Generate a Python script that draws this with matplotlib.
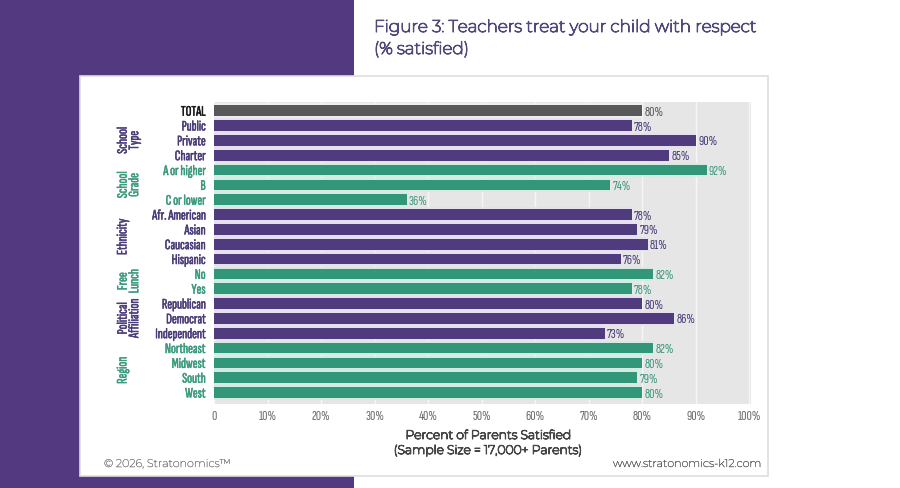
import matplotlib
matplotlib.use("Agg")
import matplotlib.pyplot as plt
from matplotlib.patches import Rectangle
import matplotlib.patheffects as pe

categories = ["TOTAL", "Public", "Private", "Charter", "A or higher", "B", "C or lower",
              "Afr. American", "Asian", "Caucasian", "Hispanic", "No", "Yes",
              "Republican", "Democrat", "Independent", "Northeast", "Midwest", "South", "West"]
values = [80, 78, 90, 85, 92, 74, 36, 78, 79, 81, 76, 82, 78, 80, 86, 73, 82, 80, 79, 80]
groups = ["total", "p", "p", "p", "g", "g", "g", "p", "p", "p", "p", "g", "g",
          "p", "p", "p", "g", "g", "g", "g"]
x_ticks = [0, 10, 20, 30, 40, 50, 60, 70, 80, 90, 100]
x_labels = ["0", "10%", "20%", "30%", "40%", "50%", "60%", "70%", "80%", "90%", "100%"]
group_labels = [("School\nType", 2, "p"), ("School\nGrade", 5, "g"), ("Ethnicity", 8.5, "p"),
                ("Free\nLunch", 11.5, "g"), ("Political\nAffiliation", 14, "p"), ("Region", 17.5, "g")]

PURPLE = "#4f3b7d"
GREEN = "#329679"
DARK = "#58585a"
PAGE = "#53397f"
solid = {"total": DARK, "p": PURPLE, "g": GREEN}
pale = {"total": "#eeeeee", "p": "#e6dff0", "g": "#d3ebe3"}
text_c = {"total": "#1a1a1a", "p": "#4a3c78", "g": "#3c9a7e"}
value_c = {"total": "#58585a", "p": "#4a3c78", "g": "#3c9a7e"}
NARROW = ["Sofia Sans Extra Condensed", "Saira ExtraCondensed", "Roboto", "DejaVu Sans"]
WIDE = ["Montserrat", "Open Sans", "Noto Sans", "DejaVu Sans"]
W, H = 900, 488

fig = plt.figure(figsize=(9, 4.88), dpi=100, facecolor="white")

def box(x0, y0, x1, y1, **kw):
    fig.add_artist(Rectangle((x0 / W, 1 - y1 / H), (x1 - x0) / W, (y1 - y0) / H,
                             transform=fig.transFigure, **kw))

def heavy(t, w, c):
    t.set_path_effects([pe.withStroke(linewidth=w, foreground=c)])

box(0, 0, 353.5, 488, facecolor=PAGE, edgecolor="none", zorder=0)
box(80, 76, 768, 476, facecolor="white", edgecolor="#dedee2", linewidth=1.2, zorder=1)

ax = fig.add_axes([214 / W, 1 - 404 / H, (751 - 214) / W, (404 - 101.7) / H], zorder=2)
ax.set_facecolor("#e6e6e7")
ax.set_xlim(0, 100.3)
ax.set_ylim(19.775, -0.607)
for s in ax.spines.values():
    s.set_visible(False)
ax.set_axisbelow(True)
ax.grid(axis="x", color="#f6f6f6", linewidth=1)
ax.tick_params(length=0)
ax.set_xticks(x_ticks)
ax.set_xticklabels(x_labels, family=NARROW, fontsize=10.5, color="#6a6a6c")
ax.tick_params(axis="x", pad=4)
ax.set_yticks(range(len(categories)))
ax.set_yticklabels(categories, family=NARROW, fontsize=10.5)
ax.tick_params(axis="y", pad=6)
for lab, g in zip(ax.get_yticklabels(), groups):
    lab.set_color(text_c[g])
    heavy(lab, 0.35, text_c[g])

ypos = list(range(len(categories)))
ax.barh(ypos, values, height=0.98, color=[pale[g] for g in groups], zorder=2)
ax.barh(ypos, values, height=0.72, color=[solid[g] for g in groups], zorder=3)
for y, v, g in zip(ypos, values, groups):
    ax.annotate(f"{v}%", (v, y), xytext=(1.6, 0), textcoords="offset points",
                va="center_baseline", ha="left", family=NARROW, fontsize=10.5, color=value_c[g])

for txt, yc, g in group_labels:
    cx = 129 if "\n" in txt else 123
    t = ax.annotate(txt, xy=(0, yc), xycoords=("axes fraction", "data"),
                    xytext=(cx - 214, 0), textcoords="offset pixels",
                    rotation=90, ha="center", va="center", ma="center", family=NARROW, fontsize=10.5,
                    color=text_c[g], linespacing=0.85, annotation_clip=False)
    heavy(t, 0.35, text_c[g])

def wide(x, y, s, size, color, stroke, ha="center"):
    t = fig.text(x / W, 1 - y / H, s, family=WIDE, fontsize=size, color=color, ha=ha, va="center", zorder=3)
    if stroke:
        heavy(t, stroke, color)

wide(374, 27, "Figure 3: Teachers treat your child with respect", 12.15, "#51497a", 0.8, "left")
wide(374, 49, "(% satisfied)", 12.15, "#51497a", 0.8, "left")
wide(488, 436, "Percent of Parents Satisfied", 8.9, "#47474a", 0.8)
wide(488, 451, "(Sample Size = 17,000+ Parents)", 8.9, "#47474a", 0.8)
wide(104, 464, "© 2026, Stratonomics™", 8, "#77777a", 0.2, "left")
wide(762, 464, "www.stratonomics-k12.com", 8, "#606065", 0.25, "right")

fig.savefig("out.png", dpi=100)
